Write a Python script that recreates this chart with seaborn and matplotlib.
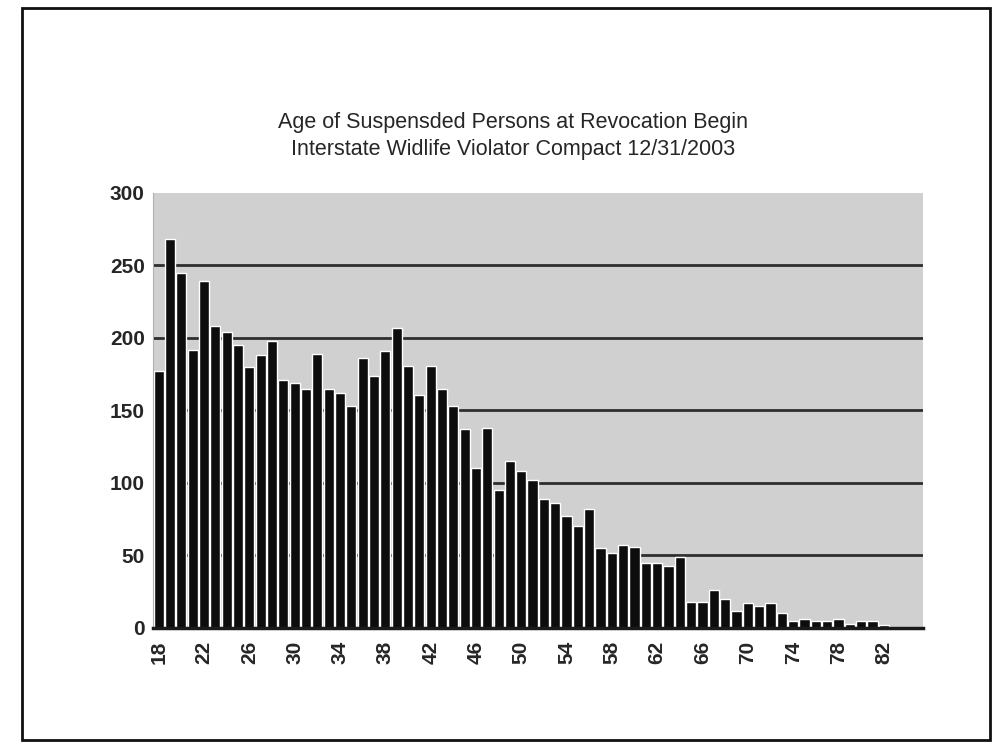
import matplotlib
matplotlib.use("Agg")
import pandas as pd
import seaborn as sns
from matplotlib import pyplot as plt
from matplotlib.patches import Rectangle

# ages at revocation begin (one bar per year of age)
ages = list(range(18, 86))

# number of suspended persons
counts = [
    177, 268, 245, 192, 239, 208, 204, 195, 180, 188,   # 18-27
    198, 171, 169, 165, 189, 165, 162, 153, 186, 174,   # 28-37
    191, 207, 181, 161, 181, 165, 153, 137, 110, 138,   # 38-47
    95, 115, 108, 102, 89, 86, 77, 70, 82, 55,          # 48-57
    52, 57, 56, 45, 45, 43, 49, 18, 18, 26,             # 58-67
    20, 12, 17, 15, 17, 10, 5, 6, 5, 5,                 # 68-77
    6, 3, 5, 5, 2, 1, 1, 1,                             # 78-85
]

title_lines = [
    "Age of Suspensded Persons at Revocation Begin",
    "Interstate Widlife Violator Compact 12/31/2003",
]
y_ticks = [0, 50, 100, 150, 200, 250, 300]
grid_values = [50, 100, 150, 200, 250]

FONT = ["Liberation Sans", "DejaVu Sans"]


def plot_age_histogram(df: pd.DataFrame) -> None:
    """
    Draws the age distribution as a black column chart on a grey plot area.
    :param df: dataframe with age and count columns
    :return: None
    """
    sns.set_style("white")
    plt.rcParams["font.family"] = FONT

    fig = plt.figure(figsize=(9.94, 7.49), dpi=100)
    ax = fig.add_axes([0.154, 0.1616, 0.775, 0.5808])
    ax.set_facecolor("#d0d0d0")

    for v in grid_values:
        ax.axhline(v, color="#2e2e2e", linewidth=2, zorder=1)

    sns.barplot(data=df, x="age", y="count", ax=ax, color="#0d0d0d",
                width=0.9, saturation=1, zorder=2)

    ax.set_ylim(0, 300)
    ax.set_xlim(-0.5, len(ages) - 0.5)
    ax.set_yticks(y_ticks)
    ax.set_yticklabels([str(v) for v in y_ticks], fontsize=15,
                       fontweight="bold")
    tick_pos = list(range(0, len(ages), 4))
    ax.set_xticks(tick_pos)
    ax.set_xticklabels([str(ages[i]) for i in tick_pos], rotation=90,
                       fontsize=15, fontweight="bold")
    ax.tick_params(axis="y", length=0, pad=6)
    ax.tick_params(axis="x", length=0, pad=9)
    ax.set_xlabel("")
    ax.set_ylabel("")
    for side in ["top", "right"]:
        ax.spines[side].set_visible(False)
    ax.spines["left"].set_color("#b0b0b0")
    ax.spines["bottom"].set_color("#1a1a1a")
    ax.spines["bottom"].set_linewidth(2.5)

    fig.text(0.516, 0.836, title_lines[0], ha="center", va="center",
             fontsize=15.5)
    fig.text(0.516, 0.800, title_lines[1], ha="center", va="center",
             fontsize=15.5)

    # scanned page frame
    fig.patches.append(Rectangle((0.022, 0.012), 0.974, 0.977,
                                 transform=fig.transFigure, fill=False,
                                 edgecolor="#111111", linewidth=2))

    plt.savefig("out.png", dpi=100)
    plt.close()


df = pd.DataFrame({"age": ages, "count": counts})
plot_age_histogram(df)
